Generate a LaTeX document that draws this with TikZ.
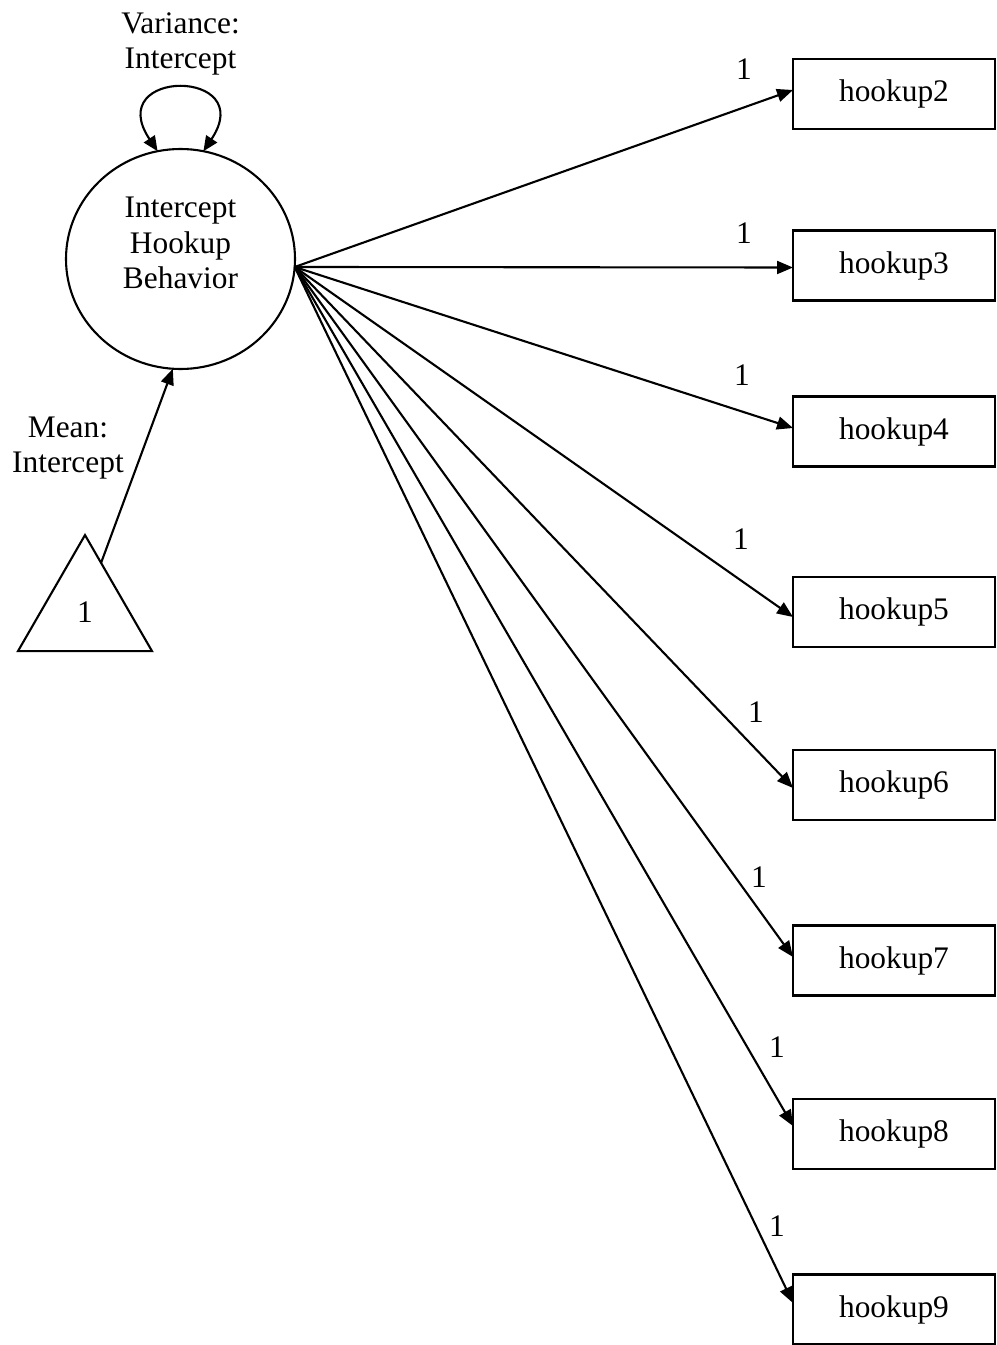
\documentclass[tikz,border=0pt]{standalone}
\usepackage{fontspec}
\setmainfont{Liberation Serif}
\usetikzlibrary{arrows.meta,shapes.geometric,calc}

\begin{document}
\begin{tikzpicture}[x=1bp,y=-1bp,
  line width=2.1bp,
  every node/.style={font=\fontsize{31.5}{36}\selectfont, inner sep=0pt, outer sep=0pt},
  latent/.style={draw, ellipse, minimum width=229bp, minimum height=220bp},
  indicator/.style={draw, rectangle, minimum width=202bp, minimum height=70bp},
  constant/.style={draw, regular polygon, regular polygon sides=3, minimum size=154.7bp},
  load/.style={-{Triangle[length=16bp,width=13bp]}},
  loopvar/.style={{Triangle[length=15bp,width=13bp]}-{Triangle[length=15bp,width=13bp]}},
  lbl/.style={align=center}
]
\useasboundingbox (0,0) rectangle (996,1345);

% latent factor and its labels
\node[latent] (lat) at (180.5,259) {};
\node[lbl] (latname) at (180.5,243) {Intercept\\Hookup\\Behavior};
\node[lbl] (varlbl) at (180.5,44) {Variance:\\Intercept};

% constant (mean structure)
\node[constant] (tri) at (85,612.4) {1};
\node[lbl] (meanlbl) at (68,448) {Mean:\\Intercept};

% observed indicators
\node[indicator] (h2) at (894,94) {hookup2};
\node[indicator] (h3) at (894,265.5) {hookup3};
\node[indicator] (h4) at (894,431.5) {hookup4};
\node[indicator] (h5) at (894,612) {hookup5};
\node[indicator] (h6) at (894,785) {hookup6};
\node[indicator] (h7) at (894,960.5) {hookup7};
\node[indicator] (h8) at (894,1134) {hookup8};
\node[indicator] (h9) at (894,1309.5) {hookup9};

% variance self-loop
\draw[loopvar] (lat.102) .. controls (102,68) and (259,68) .. (lat.78);

% mean path
\draw[load] ($(tri.corner 1)!0.24!(tri.corner 3)$) -- (lat.-94);

% loadings
\draw[load] (lat.-4) -- ([yshift=4bp]h2.west);
\draw[load] (lat.-4) -- ([yshift=-2bp]h3.west);
\draw[load] (lat.-4) -- ([yshift=3.5bp]h4.west);
\draw[load] (lat.-4) -- ([yshift=-5bp]h5.west);
\draw[load] (lat.-4) -- ([yshift=-3bp]h6.west);
\draw[load] (lat.-4) -- ([yshift=3.5bp]h7.west);
\draw[load] (lat.-4) -- ([yshift=8bp]h8.west);
\draw[load] (lat.-4) -- ([yshift=6.5bp]h9.west);

% loading values
\node (l2) at (744,69) {1};
\node (l3) at (744,233) {1};
\node (l4) at (742,375) {1};
\node (l5) at (741,539) {1};
\node (l6) at (756,712) {1};
\node (l7) at (759,877) {1};
\node (l8) at (777,1047) {1};
\node (l9) at (777,1226) {1};
\end{tikzpicture}
\end{document}
